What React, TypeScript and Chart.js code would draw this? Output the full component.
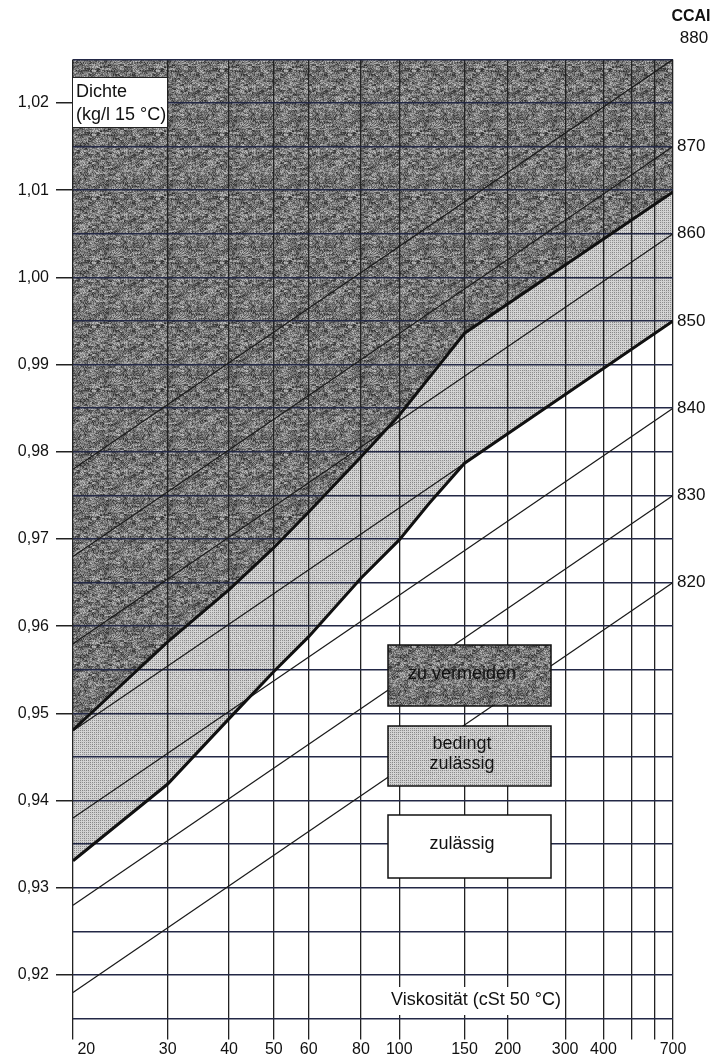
import React, { useEffect, useRef } from 'react';
import { Chart, registerables } from 'chart.js';

Chart.register(...registerables);

// ---- data ----
const viscosityGrid = [20, 30, 40, 50, 60, 80, 100, 150, 200, 300, 400, 500, 600, 700];
const viscosityLabels = [20, 30, 40, 50, 60, 80, 100, 150, 200, 300, 400, 700];
const densityGrid = [0.915, 0.92, 0.925, 0.93, 0.935, 0.94, 0.945, 0.95, 0.955, 0.96, 0.965, 0.97, 0.975, 0.98, 0.985, 0.99, 0.995, 1.0, 1.005, 1.01, 1.015, 1.02, 1.025];
const densityLabels = [0.92, 0.93, 0.94, 0.95, 0.96, 0.97, 0.98, 0.99, 1.0, 1.01, 1.02];

const ccaiValues = [820, 830, 840, 850, 860, 870, 880];
const ccaiDensityAt20 = [0.918, 0.928, 0.938, 0.948, 0.958, 0.968, 0.978];
const ccaiDensityAt700 = [0.965, 0.975, 0.985, 0.995, 1.005, 1.015, 1.025];
const ccaiRightLabels = [820, 830, 840, 850, 860, 870];

const upperViscosity = [20, 30, 40, 50, 60, 80, 100, 120, 150, 700];
const upperDensity = [0.9481, 0.9582, 0.9642, 0.969, 0.9731, 0.9794, 0.9842, 0.9885, 0.9936, 1.0098];
const lowerViscosity = [20, 30, 40, 50, 60, 80, 100, 120, 150, 700];
const lowerDensity = [0.9331, 0.9419, 0.9494, 0.9548, 0.9588, 0.9655, 0.9699, 0.9741, 0.9787, 0.995];

// axis transform: log10(log10(v + 0.85))
const LL = (v: number) => Math.log10(Math.log10(v + 0.85));

const FONT = '"Liberation Sans", Arial, Helvetica, sans-serif';

const hash = (x: number, y: number) => {
  let n = (Math.imul(x, 374761393) + Math.imul(y, 668265263)) | 0;
  n = Math.imul(n ^ (n >>> 13), 1274126177);
  n = n ^ (n >>> 16);
  return (n >>> 0) / 4294967295;
};

function makePattern(ctx: CanvasRenderingContext2D, kind: 'dark' | 'light') {
  const size = 64;
  const c = document.createElement('canvas');
  c.width = size;
  c.height = size;
  const g = c.getContext('2d')!;
  const img = g.createImageData(size, size);
  for (let y = 0; y < size; y++) {
    for (let x = 0; x < size; x++) {
      let v: number;
      if (kind === 'dark') {
        const h1 = hash(x, y);
        const h2 = hash(x >> 2, (y >> 1) + 1000);
        v = 36 + 90 * h1 + 72 * h2;
      } else {
        const dot = x % 2 === 0 && y % 2 === 0;
        v = (dot ? 130 : 200) + 18 * hash(x + 77, y + 33);
      }
      const i = (y * size + x) * 4;
      img.data[i] = v;
      img.data[i + 1] = v;
      img.data[i + 2] = v;
      img.data[i + 3] = 255;
    }
  }
  g.putImageData(img, 0, 0);
  return ctx.createPattern(c, 'repeat')!;
}

const fmtDensity = (v: number) => v.toFixed(2).replace('.', ',');
const isLabeledDensity = (v: number) => densityLabels.some((d) => Math.abs(d - v) < 1e-6);

export default function App() {
  const ref = useRef<HTMLCanvasElement>(null);

  useEffect(() => {
    document.body.style.margin = '0';
    const canvas = ref.current!;
    const ctx = canvas.getContext('2d')!;
    const dark = makePattern(ctx, 'dark');
    const light = makePattern(ctx, 'light');

    const toPts = (vs: number[], ds: number[]) => vs.map((v, i) => ({ x: LL(v), y: ds[i] }));

    const annotations = {
      id: 'annotations',
      afterDraw(chart: any) {
        const c = chart.ctx as CanvasRenderingContext2D;
        c.save();
        // Dichte box
        c.fillStyle = '#fff';
        c.fillRect(72, 77, 96, 51);
        c.strokeStyle = '#222';
        c.lineWidth = 1;
        c.strokeRect(72.5, 77.5, 95, 50);
        c.fillStyle = '#111';
        c.font = `18px ${FONT}`;
        c.textAlign = 'left';
        c.textBaseline = 'alphabetic';
        c.fillText('Dichte', 76, 97);
        c.fillText('(kg/l 15 °C)', 76, 120);

        // Viskosität label
        c.fillStyle = '#fff';
        c.fillRect(388, 987, 177, 28);
        c.fillStyle = '#111';
        c.textAlign = 'center';
        c.fillText('Viskosität (cSt 50 °C)', 476, 1005);

        // CCAI header
        c.font = `bold 16px ${FONT}`;
        c.fillText('CCAI', 691, 21);
        c.font = `17px ${FONT}`;
        c.fillText('880', 694, 43);

        // legend boxes
        const boxes = [
          { y: 645, h: 61, fill: dark as any, lines: ['zu vermeiden'], base: [679] },
          { y: 726, h: 60, fill: light as any, lines: ['bedingt', 'zulässig'], base: [749, 769] },
          { y: 815, h: 63, fill: '#fff', lines: ['zulässig'], base: [849] },
        ];
        boxes.forEach((b) => {
          c.fillStyle = b.fill;
          c.fillRect(388, b.y, 163, b.h);
          c.strokeStyle = '#111';
          c.lineWidth = 1.5;
          c.strokeRect(388, b.y, 163, b.h);
          c.fillStyle = '#111';
          c.font = `18px ${FONT}`;
          c.textAlign = 'center';
          b.lines.forEach((t, i) => c.fillText(t, 462, b.base[i]));
        });
        c.restore();
      },
    };

    const chart = new Chart(canvas, {
      type: 'line',
      data: {
        datasets: [
          {
            label: 'zu vermeiden',
            data: toPts(upperViscosity, upperDensity),
            fill: 'end',
            backgroundColor: dark as any,
            borderColor: '#111',
            borderWidth: 3,
            pointRadius: 0,
            tension: 0,
            order: 2,
          },
          {
            label: 'bedingt zulässig',
            data: toPts(lowerViscosity, lowerDensity),
            fill: 'end',
            backgroundColor: light as any,
            borderColor: '#111',
            borderWidth: 3,
            pointRadius: 0,
            tension: 0,
            order: 3,
          },
          ...ccaiValues.map((cc, i) => ({
            label: `CCAI ${cc}`,
            data: [
              { x: LL(20), y: ccaiDensityAt20[i] },
              { x: LL(700), y: ccaiDensityAt700[i] },
            ],
            fill: false,
            borderColor: '#1a1a1a',
            borderWidth: 1.2,
            pointRadius: 0,
            order: 4,
          })),
        ],
      },
      options: {
        responsive: false,
        animation: false,
        devicePixelRatio: 1,
        layout: { padding: { top: 59.4, left: 0, right: 0, bottom: 0 } },
        plugins: {
          legend: { display: false },
          tooltip: { enabled: false },
          filler: { drawTime: 'beforeDraw' } as any,
        },
        scales: {
          x: {
            type: 'linear',
            min: LL(20),
            max: LL(700),
            bounds: 'data',
            afterBuildTicks: (s: any) => {
              s.ticks = viscosityGrid.map((v) => ({ value: LL(v) }));
            },
            afterFit: (s: any) => {
              s.height = 41.4;
            },
            ticks: {
              autoSkip: false,
              maxRotation: 0,
              minRotation: 0,
              padding: 0,
              color: '#111',
              font: { family: FONT, size: 16 },
              callback: (_v: any, i: number) => {
                const v = viscosityGrid[i];
                if (!viscosityLabels.includes(v)) return '';
                return v === 20 ? '      20' : String(v);
              },
            },
            grid: { color: '#222', lineWidth: 1.3, tickLength: 21, drawTicks: true },
            border: { display: false },
          },
          y: {
            type: 'linear',
            position: 'left',
            min: 0.915,
            max: 1.025,
            bounds: 'data',
            afterBuildTicks: (s: any) => {
              s.ticks = densityGrid.map((v) => ({ value: v }));
            },
            afterFit: (s: any) => {
              s.width = 73;
            },
            ticks: {
              autoSkip: false,
              padding: 7,
              color: '#111',
              font: { family: FONT, size: 16 },
              callback: (v: any) => (isLabeledDensity(Number(v)) ? fmtDensity(Number(v)) : ''),
            },
            grid: {
              color: '#232846',
              lineWidth: 1.5,
              tickLength: 17,
              tickColor: (c: any) => (c.tick && isLabeledDensity(c.tick.value) ? '#222' : 'rgba(0,0,0,0)'),
            },
            border: { display: false },
          },
          y2: {
            type: 'linear',
            position: 'right',
            min: 0.915,
            max: 1.025,
            bounds: 'data',
            afterBuildTicks: (s: any) => {
              s.ticks = ccaiRightLabels.map((_c, i) => ({ value: ccaiDensityAt700[i] }));
            },
            afterFit: (s: any) => {
              s.width = 41;
            },
            ticks: {
              autoSkip: false,
              padding: 4,
              color: '#111',
              font: { family: FONT, size: 17 },
              callback: (_v: any, i: number) => String(ccaiRightLabels[i]),
            },
            grid: { display: false, drawTicks: false },
            border: { display: false },
          },
        },
      },
      plugins: [annotations],
    } as any);

    return () => chart.destroy();
  }, []);

  return (
    <div style={{ position: 'absolute', left: 0, top: 0, width: 714, height: 1060, background: '#fff' }}>
      <canvas ref={ref} width={714} height={1060} style={{ display: 'block', width: 714, height: 1060 }} />
    </div>
  );
}
